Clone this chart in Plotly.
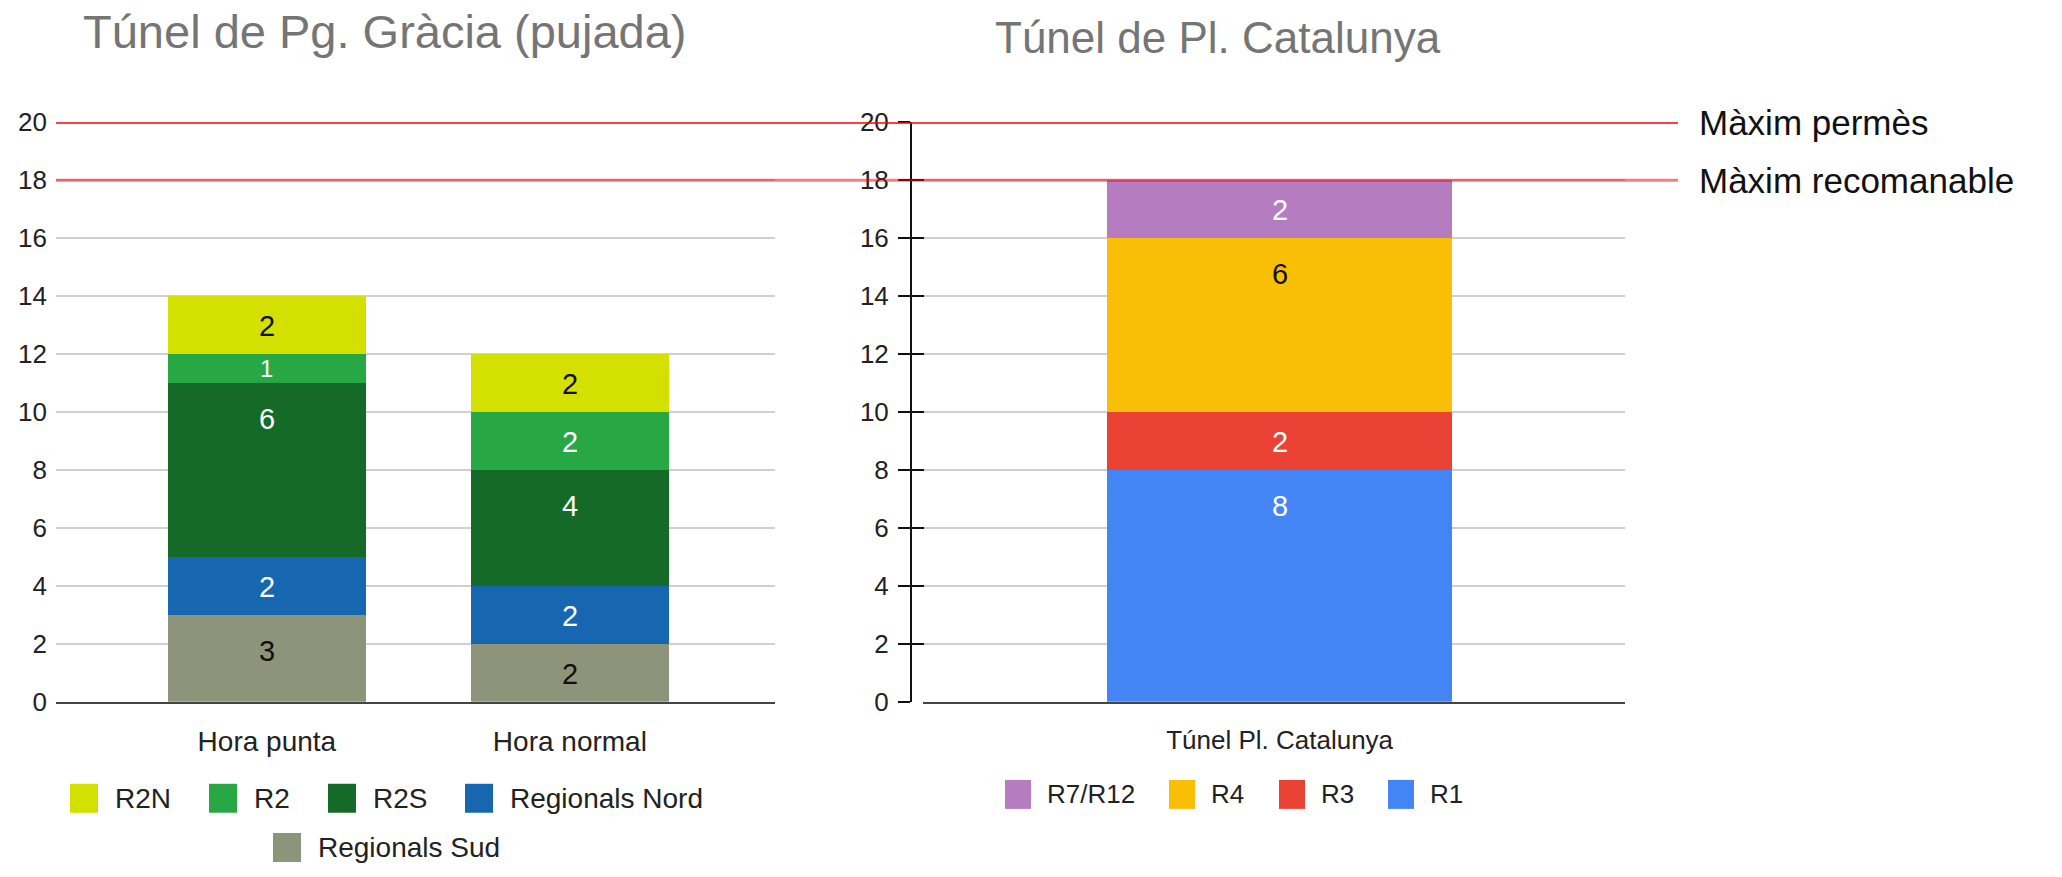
import plotly.graph_objects as go

# ---------------- data ----------------
cats_left = ["Hora punta", "Hora normal"]
regionals_sud = [3, 2]
regionals_nord = [2, 2]
r2s = [6, 4]
r2 = [1, 2]
r2n = [2, 2]

cats_right = ["Túnel Pl. Catalunya"]
r1 = [8]
r3 = [2]
r4 = [6]
r7r12 = [2]

max_permes = 20
max_recomanable = 18
y_ticks = [0, 2, 4, 6, 8, 10, 12, 14, 16, 18, 20]

title_left = "Túnel de Pg. Gràcia (pujada)"
title_right = "Túnel de Pl. Catalunya"
label_permes = "Màxim permès"
label_recomanable = "Màxim recomanable"

# stacking order (bottom -> top)
left_series = [("Regionals Sud", regionals_sud), ("Regionals Nord", regionals_nord),
               ("R2S", r2s), ("R2", r2), ("R2N", r2n)]
right_series = [("R1", r1), ("R3", r3), ("R4", r4), ("R7/R12", r7r12)]

# ---------------- styles ----------------
colors = {
    "R2N": "#d4e000", "R2": "#28a745", "R2S": "#156a27",
    "Regionals Nord": "#1666b0", "Regionals Sud": "#8d947a",
    "R7/R12": "#b57cbf", "R4": "#f9be06", "R3": "#ea4335", "R1": "#4385f4",
}
text_colors = {
    "R2N": "#111", "R2": "white", "R2S": "white",
    "Regionals Nord": "white", "Regionals Sud": "#111",
    "R7/R12": "white", "R4": "#111", "R3": "white", "R1": "white",
}

W, H = 2062, 877
FONT = "Liberation Sans, Arial, sans-serif"


def px(x):
    return x / W


def py(y):
    return 1 - y / H


PLOT_TOP, PLOT_BOTTOM = 111, 711
PX_PER_UNIT = (PLOT_BOTTOM - PLOT_TOP) / (max(y_ticks) - min(y_ticks))

fig = go.Figure()

annotations = []
shapes = []


def add_stack(series, cats, xa, ya, width):
    base = [0] * len(cats)
    for name, vals in series:
        fig.add_trace(go.Bar(
            x=cats, y=vals, name=name, marker=dict(color=colors[name], line=dict(width=0)),
            width=width, xaxis=xa, yaxis=ya, showlegend=False, hoverinfo="skip",
        ))
        for i, v in enumerate(vals):
            top = base[i] + v
            h_px = v * PX_PER_UNIT
            shift = min(36, h_px / 2)
            size = min(29, h_px * 0.8)
            annotations.append(dict(
                x=i, y=top, xref=xa, yref=ya, yshift=-shift, text=str(v), showarrow=False,
                yanchor="middle", xanchor="center",
                font=dict(family=FONT, size=size, color=text_colors[name]),
            ))
            base[i] = top


add_stack(left_series, cats_left, "x", "y", 0.653)
add_stack(right_series, cats_right, "x2", "y2", 0.491)
# empty trace so the overlay axis (inner ticks) gets drawn
fig.add_trace(go.Bar(x=[], y=[], xaxis="x2", yaxis="y3", showlegend=False, hoverinfo="skip"))

ydom = [py(PLOT_BOTTOM), py(PLOT_TOP)]
tickfont = dict(family=FONT, size=26, color="#222")
xtickfont = dict(family=FONT, size=28, color="#222")
grid = dict(showgrid=True, gridcolor="#d0d0d0", gridwidth=2)

fig.update_layout(
    width=W, height=H,
    margin=dict(l=0, r=0, t=0, b=0),
    paper_bgcolor="white", plot_bgcolor="white",
    barmode="stack", showlegend=False,
    font=dict(family=FONT),
    xaxis=dict(domain=[px(56), px(775)], range=[-0.696, 1.677], showline=True,
               linecolor="#444", linewidth=2, ticks="", tickfont=xtickfont,
               showgrid=False, zeroline=False, ticklabelstandoff=14, fixedrange=True),
    yaxis=dict(domain=ydom, range=[0, 20], tickvals=y_ticks, showline=False,
               zeroline=False, ticks="", tickfont=tickfont, ticklabelstandoff=8,
               fixedrange=True, **grid),
    xaxis2=dict(domain=[px(923), px(1625)], range=[-0.508, 0.492], showline=True,
                linecolor="#444", linewidth=2, ticks="", tickfont=tickfont,
                showgrid=False, zeroline=False, ticklabelstandoff=14, anchor="y2",
                fixedrange=True),
    yaxis2=dict(domain=ydom, range=[0, 20], tickvals=y_ticks, anchor="free",
                position=px(911), showline=True, linecolor="#111", linewidth=2,
                ticks="outside", ticklen=12, tickwidth=2, tickcolor="#111",
                zeroline=False, tickfont=tickfont, ticklabelstandoff=4,
                fixedrange=True, **grid),
    yaxis3=dict(domain=ydom, range=[0, 20], tickvals=y_ticks, anchor="free",
                position=px(911), overlaying="y2", showline=False, showgrid=False,
                zeroline=False, ticks="inside", ticklen=12, tickwidth=2,
                tickcolor="#111", showticklabels=False, fixedrange=True),
)

# limit lines
shapes.append(dict(type="line", xref="paper", yref="y", x0=px(56), x1=px(1678),
                   y0=max_permes, y1=max_permes, line=dict(color="#ff0000", width=3),
                   layer="above"))
shapes.append(dict(type="line", xref="paper", yref="y", x0=px(56), x1=px(1678),
                   y0=max_recomanable, y1=max_recomanable,
                   line=dict(color="rgba(235,0,0,0.5)", width=3), layer="above"))
for txt, yv in [(label_permes, max_permes), (label_recomanable, max_recomanable)]:
    annotations.append(dict(x=px(1697), y=yv, xref="paper", yref="y", text=txt,
                            showarrow=False, xanchor="left", yanchor="middle",
                            font=dict(family=FONT, size=35, color="#111")))

# titles
annotations.append(dict(x=px(385), y=py(17), xref="paper", yref="paper", text=title_left,
                        showarrow=False, xanchor="center", yanchor="middle",
                        font=dict(family=FONT, size=47, color="#757575")))
annotations.append(dict(x=px(1218), y=py(23), xref="paper", yref="paper", text=title_right,
                        showarrow=False, xanchor="center", yanchor="middle",
                        font=dict(family=FONT, size=44, color="#757575")))

# legends (drawn from series names / colours)
legend_left_order = ["R2N", "R2", "R2S", "Regionals Nord", "Regionals Sud"]
legend_left_pos = [(70, 811), (209, 811), (328, 811), (465, 811), (273, 862)]
legend_right_order = ["R7/R12", "R4", "R3", "R1"]
legend_right_pos = [(1005, 807), (1169, 807), (1279, 807), (1388, 807)]


def add_legend(order, pos, sw, sh, gap, fsize):
    for name, (x0, yc) in zip(order, pos):
        shapes.append(dict(type="rect", xref="paper", yref="paper",
                           x0=px(x0), x1=px(x0 + sw), y0=py(yc + sh / 2), y1=py(yc - sh / 2),
                           fillcolor=colors[name], line=dict(width=0), layer="above"))
        annotations.append(dict(x=px(x0 + sw + gap), y=py(yc), xref="paper", yref="paper",
                                text=name, showarrow=False, xanchor="left", yanchor="middle",
                                font=dict(family=FONT, size=fsize, color="#222")))


add_legend(legend_left_order, legend_left_pos, 28, 30, 15, 28)
add_legend(legend_right_order, legend_right_pos, 26, 30, 14, 26)

fig.update_layout(annotations=annotations, shapes=shapes)
fig.write_html("out.html", post_script="document.body.style.margin='0px';",
               config={"displayModeBar": False})
